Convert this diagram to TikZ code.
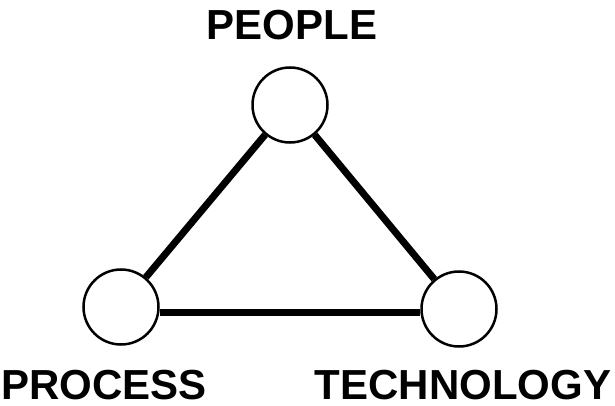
\documentclass[tikz,border=0pt]{standalone}
\usepackage{fontspec}
\setmainfont{Liberation Sans}
\begin{document}
\begin{tikzpicture}[x=1pt,y=1pt,
  vertex/.style={circle,draw=black,line width=2.5pt,minimum size=75pt,inner sep=0pt,fill=white},
  label/.style={font=\fontsize{42}{50}\selectfont\bfseries,inner sep=0pt,text depth=0pt},
  link/.style={line width=7pt,black}]
\useasboundingbox (0,0) rectangle (615,-406);
\node[vertex] (people) at (290,-105) {};
\node[vertex] (process) at (121,-307) {};
\node[vertex] (tech) at (459,-309) {};
\draw[link] (people) -- (process);
\draw[link] (people) -- (tech);
\draw[link] (process.east |- 0,-312.5) -- (tech.west |- 0,-312.5);
\node[label,anchor=base] (lpeople) at (292,-40) {PEOPLE};
\node[label,anchor=base west] (lprocess) at (1,-399) {PROCESS};
\node[label,anchor=base] (ltech) at (463,-399) {TECHNOLOGY};
\end{tikzpicture}
\end{document}
